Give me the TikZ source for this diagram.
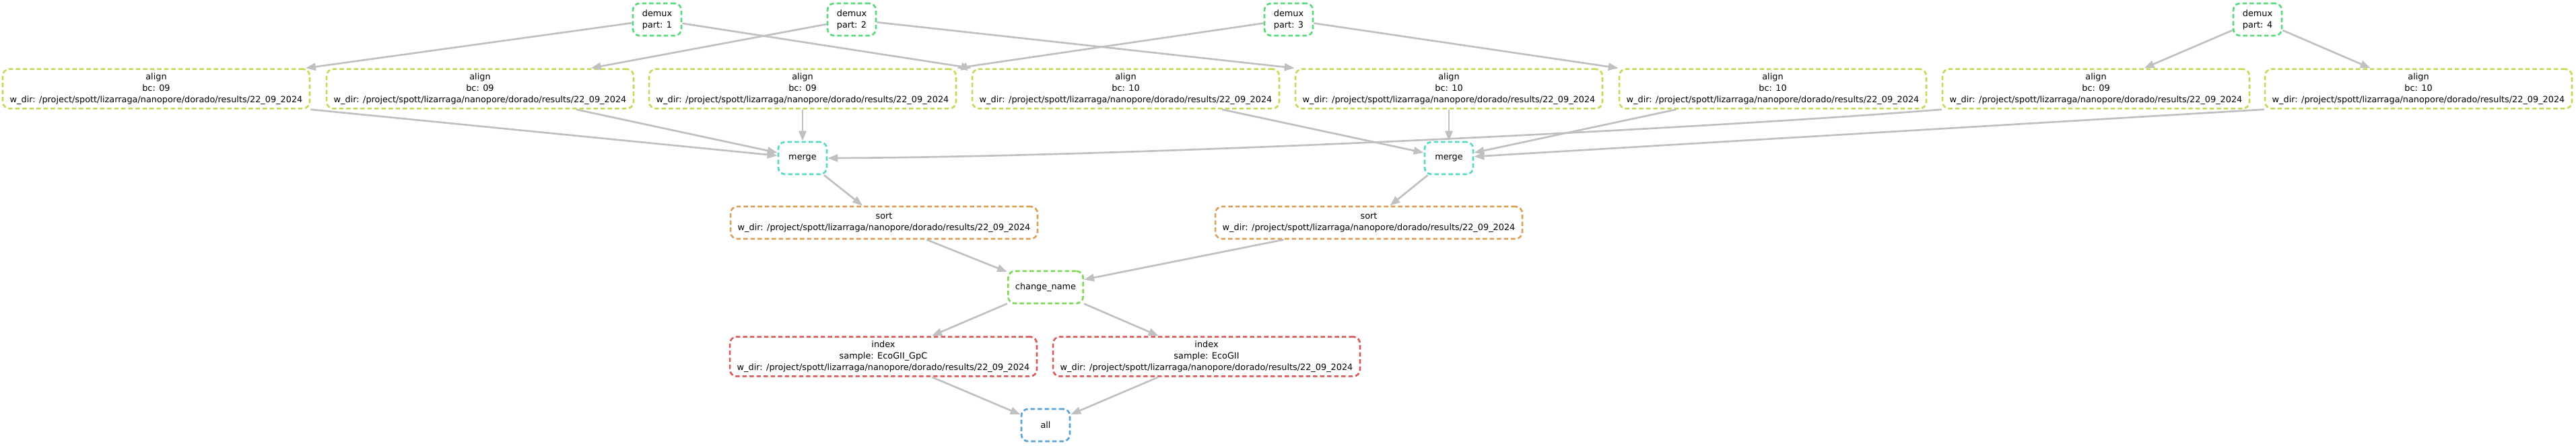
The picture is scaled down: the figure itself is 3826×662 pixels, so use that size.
\documentclass[tikz,border=0pt]{standalone}
\usepackage{fontspec}
\setmainfont{DejaVu Sans}
\usetikzlibrary{arrows.meta}
\definecolor{ink}{HTML}{000000}
\definecolor{wire}{HTML}{C0C0C0}
\definecolor{ruleIndex}{HTML}{D95757}
\definecolor{ruleSort}{HTML}{D9A157}
\definecolor{ruleAlign}{HTML}{C6D957}
\definecolor{ruleRename}{HTML}{7CD957}
\definecolor{ruleDemux}{HTML}{57D97C}
\definecolor{ruleMerge}{HTML}{57D9C6}
\definecolor{ruleAll}{HTML}{57A1D9}
\newcommand{\wdir}{w\_dir: /project/spott/lizarraga/nanopore/dorado/results/22\_09\_2024}
\tikzset{
  job/.style={draw=#1, line width=2.67pt, dash pattern=on 6.5pt off 4pt,
    rounded corners=10pt, align=center, text=ink,
    minimum width=72pt, minimum height=48pt, inner xsep=10.6pt, inner ysep=6pt},
  dep/.style={draw=wire, line width=2.67pt, -{Triangle[length=15pt,width=11pt]}}
}

\begin{document}
\begin{tikzpicture}[x=1pt, y=-1pt, font=\fontsize{12.85}{17}\selectfont]
  \useasboundingbox (0,0) rectangle (3826,662);

  % demux parts
  \node[job=ruleDemux] (demux1) at (976,29) {demux\\part: 1};
  \node[job=ruleDemux] (demux2) at (1265,29) {demux\\part: 2};
  \node[job=ruleDemux] (demux3) at (1914,29) {demux\\part: 3};
  \node[job=ruleDemux] (demux4) at (3353,29) {demux\\part: 4};

  % align jobs
  \node[job=ruleAlign] (align1) at (232,132) {align\\bc: 09\\\wdir};
  \node[job=ruleAlign] (align2) at (713,132) {align\\bc: 09\\\wdir};
  \node[job=ruleAlign] (align3) at (1192,132) {align\\bc: 09\\\wdir};
  \node[job=ruleAlign] (align4) at (1672,132) {align\\bc: 10\\\wdir};
  \node[job=ruleAlign] (align5) at (2152,132) {align\\bc: 10\\\wdir};
  \node[job=ruleAlign] (align6) at (2633,132) {align\\bc: 10\\\wdir};
  \node[job=ruleAlign] (align7) at (3113,132) {align\\bc: 09\\\wdir};
  \node[job=ruleAlign] (align8) at (3592,132) {align\\bc: 10\\\wdir};

  % merge, sort, rename
  \node[job=ruleMerge] (merge1) at (1192,235) {merge};
  \node[job=ruleMerge] (merge2) at (2152,235) {merge};
  \node[job=ruleSort] (sort1) at (1313,331) {sort\\\wdir};
  \node[job=ruleSort] (sort2) at (2033,331) {sort\\\wdir};
  \node[job=ruleRename] (rename) at (1553,427) {change\_name};

  % index and target
  \node[job=ruleIndex] (index1) at (1312,530) {index\\sample: EcoGII\_GpC\\\wdir};
  \node[job=ruleIndex] (index2) at (1792,530) {index\\sample: EcoGII\\\wdir};
  \node[job=ruleAll] (all) at (1553,632) {all};

  % demux -> align
  \draw[dep] (demux1) -- (align1);
  \draw[dep] (demux1) -- (align4.north west);
  \draw[dep] (demux2) -- (align2);
  \draw[dep] (demux2) -- (align5.north west);
  \draw[dep] (demux3) -- (align3.north east);
  \draw[dep] (demux3) -- (align6.north west);
  \draw[dep] (demux4) -- (align7);
  \draw[dep] (demux4) -- (align8);

  % align -> merge
  \draw[dep] (align1.south east) -- (merge1);
  \draw[dep] (align2) -- (merge1);
  \draw[dep] (align3) -- (merge1);
  \draw[dep] (align7.south west) .. controls (2550,190) and (1700,233) .. (merge1.east);
  \draw[dep] (align4) -- (merge2);
  \draw[dep] (align5) -- (merge2);
  \draw[dep] (align6) -- (merge2);
  \draw[dep] (align8.south west) -- (merge2);

  % merge -> sort -> change_name -> index -> all
  \draw[dep] (merge1) -- (sort1);
  \draw[dep] (merge2) -- (sort2);
  \draw[dep] (sort1) -- (rename);
  \draw[dep] (sort2) -- (rename);
  \draw[dep] (rename) -- (index1);
  \draw[dep] (rename) -- (index2);
  \draw[dep] (index1) -- (all);
  \draw[dep] (index2) -- (all);
\end{tikzpicture}
\end{document}
